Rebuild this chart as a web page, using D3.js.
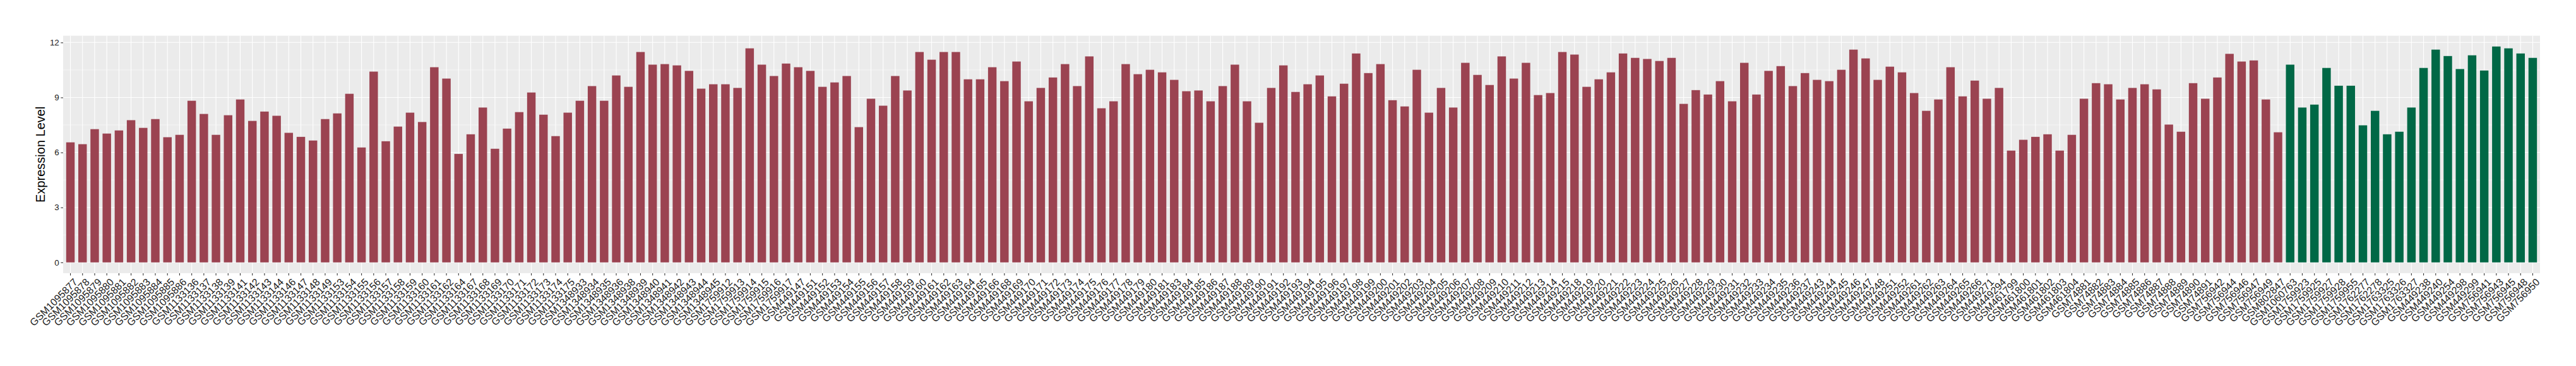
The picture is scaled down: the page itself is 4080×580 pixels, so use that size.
<!DOCTYPE html>
<html><head><meta charset="utf-8">
<script src="https://cdn.jsdelivr.net/npm/d3@7"></script>
<style>body{margin:0;background:#fff}svg{display:block}</style>
</head><body>
<svg id="chart" width="4080" height="580"></svg>
<script>
// ---------------- DATA ----------------
const tumorSamples = [
"GSM1095877","GSM1095878","GSM1095879","GSM1095880","GSM1095881","GSM1095882","GSM1095883","GSM1095884","GSM1095885","GSM1095886",
"GSM1133136","GSM1133137","GSM1133138","GSM1133139","GSM1133141","GSM1133142","GSM1133143","GSM1133144","GSM1133146","GSM1133147",
"GSM1133148","GSM1133149","GSM1133153","GSM1133154","GSM1133155","GSM1133156","GSM1133157","GSM1133158","GSM1133159","GSM1133160",
"GSM1133161","GSM1133162","GSM1133164","GSM1133167","GSM1133168","GSM1133169","GSM1133170","GSM1133171","GSM1133172","GSM1133173",
"GSM1133174","GSM1133175","GSM1348933","GSM1348934","GSM1348935","GSM1348936","GSM1348938","GSM1348939","GSM1348940","GSM1348941",
"GSM1348942","GSM1348943","GSM1348944","GSM1348945","GSM1759912","GSM1759913","GSM1759914","GSM1759915","GSM1759916","GSM1759917",
"GSM449147","GSM449151","GSM449152","GSM449153","GSM449154","GSM449155","GSM449156","GSM449157","GSM449158","GSM449159",
"GSM449160","GSM449161","GSM449162","GSM449163","GSM449164","GSM449165","GSM449166","GSM449168","GSM449169","GSM449170",
"GSM449171","GSM449172","GSM449173","GSM449174","GSM449175","GSM449176","GSM449177","GSM449178","GSM449179","GSM449180",
"GSM449181","GSM449183","GSM449184","GSM449185","GSM449186","GSM449187","GSM449188","GSM449189","GSM449190","GSM449191",
"GSM449192","GSM449193","GSM449194","GSM449195","GSM449196","GSM449197","GSM449198","GSM449199","GSM449200","GSM449201",
"GSM449202","GSM449203","GSM449204","GSM449205","GSM449206","GSM449207","GSM449208","GSM449209","GSM449210","GSM449211",
"GSM449212","GSM449213","GSM449214","GSM449215","GSM449218","GSM449219","GSM449220","GSM449221","GSM449222","GSM449223",
"GSM449224","GSM449225","GSM449226","GSM449227","GSM449228","GSM449229","GSM449230","GSM449231","GSM449232","GSM449233",
"GSM449234","GSM449235","GSM449236","GSM449237","GSM449243","GSM449244","GSM449245","GSM449246","GSM449247","GSM449248",
"GSM449251","GSM449252","GSM449261","GSM449262","GSM449263","GSM449264","GSM449265","GSM449266","GSM449271","GSM449294",
"GSM461799","GSM461800","GSM461801","GSM461802","GSM461803","GSM461804","GSM74881","GSM74882","GSM74883","GSM74884",
"GSM74885","GSM74886","GSM74887","GSM74888","GSM74889","GSM74890","GSM74891","GSM756942","GSM756944","GSM756946",
"GSM756947","GSM756949","GSM802847"
];
const tumorValues = [
6.55,6.45,7.27,7.03,7.20,7.76,7.34,7.82,6.83,6.96,
8.82,8.10,6.96,8.03,8.89,7.72,8.23,8.00,7.07,6.85,
6.65,7.82,8.13,9.20,6.27,10.41,6.61,7.41,8.17,7.66,
10.65,10.03,5.92,6.99,8.45,6.20,7.30,8.20,9.27,8.06,
6.89,8.17,8.82,9.62,8.82,10.20,9.58,11.48,10.79,10.82,
10.75,10.45,9.48,9.72,9.72,9.52,11.68,10.79,10.17,10.85,
10.65,10.45,9.58,9.82,10.17,7.38,8.93,8.55,10.17,9.38,
11.48,11.06,11.48,11.48,9.99,9.99,10.65,9.89,10.96,8.79,
9.52,10.09,10.82,9.62,11.24,8.41,8.79,10.82,10.27,10.51,
10.37,9.96,9.34,9.38,8.79,9.62,10.79,8.79,7.62,9.52,
10.75,9.30,9.72,10.20,9.06,9.75,11.40,10.33,10.82,8.85,
8.51,10.51,8.17,9.52,8.45,10.89,10.23,9.68,11.24,10.03,
10.89,9.13,9.24,11.48,11.34,9.58,9.99,10.37,11.40,11.16,
11.10,10.99,11.16,8.65,9.40,9.16,9.89,8.79,10.89,9.16,
10.45,10.71,9.62,10.33,9.96,9.89,10.51,11.61,11.13,9.96,
10.68,10.37,9.24,8.27,8.89,10.65,9.06,9.92,8.93,9.52,
6.10,6.69,6.85,6.99,6.10,6.96,8.93,9.78,9.72,8.89,
9.52,9.72,9.44,7.52,7.13,9.78,8.93,10.09,11.38,10.96,
11.02,8.89,7.10
];
const normalSamples = [
"GSM1060763","GSM1759923","GSM1759925","GSM1759927","GSM1759928","GSM1759955","GSM1762277","GSM1762278","GSM1763325","GSM1763326",
"GSM1763327","GSM449238","GSM449240","GSM449254","GSM449298","GSM449299","GSM756941","GSM756943","GSM756945","GSM756948",
"GSM756950"
];
const normalValues = [
10.79,8.45,8.61,10.61,9.64,9.64,7.48,8.27,6.99,7.13,
8.45,10.61,11.61,11.26,10.55,11.30,10.47,11.78,11.68,11.40,
11.16
];
const yTicks = [0, 3, 6, 9, 12];
const yMinorTicks = [1.5, 4.5, 7.5, 10.5];
const yTitle = "Expression Level";
const groupColors = {tumor: "#9b4351", normal: "#006846"};

// ---------------- CHART ----------------
const svg = d3.select("#chart");
const panel = {left: 100, right: 4023, top: 56.6, bottom: 432.9};
const FONT = "'Liberation Sans', Arial, Helvetica, sans-serif";

const data = tumorSamples.map((s, i) => ({s, v: tumorValues[i], g: "tumor"}))
  .concat(normalSamples.map((s, i) => ({s, v: normalValues[i], g: "normal"})));
const categories = data.map(d => d.s);
const maxV = d3.max(data, d => d.v);

const x = d3.scaleBand().domain(categories).range([panel.left, panel.right])
  .paddingInner(0.3).paddingOuter(0.25);
const y = d3.scaleLinear().domain([-0.05 * maxV, maxV * 1.05]).range([panel.bottom, panel.top]);
const cx = d => x(d) + x.bandwidth() / 2;

// panel background
svg.append("rect").attr("x", panel.left).attr("y", panel.top)
  .attr("width", panel.right - panel.left).attr("height", panel.bottom - panel.top)
  .attr("fill", "#ebebeb");

const grid = svg.append("g");
grid.selectAll("line.minor").data(yMinorTicks).join("line")
  .attr("x1", panel.left).attr("x2", panel.right)
  .attr("y1", d => y(d)).attr("y2", d => y(d))
  .attr("stroke", "#fff").attr("stroke-width", 0.55);
grid.selectAll("line.majorY").data(yTicks).join("line")
  .attr("x1", panel.left).attr("x2", panel.right)
  .attr("y1", d => y(d)).attr("y2", d => y(d))
  .attr("stroke", "#fff").attr("stroke-width", 1.1);
grid.selectAll("line.majorX").data(categories).join("line")
  .attr("x1", d => cx(d)).attr("x2", d => cx(d))
  .attr("y1", panel.top).attr("y2", panel.bottom)
  .attr("stroke", "#fff").attr("stroke-width", 1.1);

// bars
svg.append("g").selectAll("rect").data(data).join("rect")
  .attr("x", d => x(d.s)).attr("width", x.bandwidth())
  .attr("y", d => y(d.v)).attr("height", d => y(0) - y(d.v))
  .attr("fill", d => groupColors[d.g]);

// y axis
const yAxis = svg.append("g").attr("transform", `translate(${panel.left},0)`)
  .call(d3.axisLeft(y).tickValues(yTicks).tickSize(3.7).tickPadding(2.5).tickFormat(d3.format("d")));
yAxis.select(".domain").remove();
yAxis.selectAll(".tick line").attr("stroke", "#333").attr("stroke-width", 1.1);
yAxis.selectAll(".tick text").attr("fill", "#1a1a1a")
  .style("font-family", FONT).style("font-size", "13.4px");

// x axis
const xAxis = svg.append("g").attr("transform", `translate(0,${panel.bottom})`)
  .call(d3.axisBottom(x).tickSize(3.7).tickSizeOuter(0));
xAxis.select(".domain").remove();
xAxis.selectAll(".tick line").attr("stroke", "#333").attr("stroke-width", 1.1);
xAxis.selectAll(".tick text")
  .attr("fill", "#1a1a1a")
  .style("font-family", FONT).style("font-size", "16px")
  .attr("text-anchor", "end")
  .attr("x", 0).attr("y", 0).attr("dy", "0.72em")
  .attr("transform", "translate(4,7) rotate(-45)");

// y title
svg.append("text")
  .attr("transform", `translate(71,${(panel.top + panel.bottom) / 2}) rotate(-90)`)
  .attr("text-anchor", "middle")
  .style("font-family", FONT).style("font-size", "20px").attr("fill", "#000")
  .text(yTitle);
</script>
</body></html>
